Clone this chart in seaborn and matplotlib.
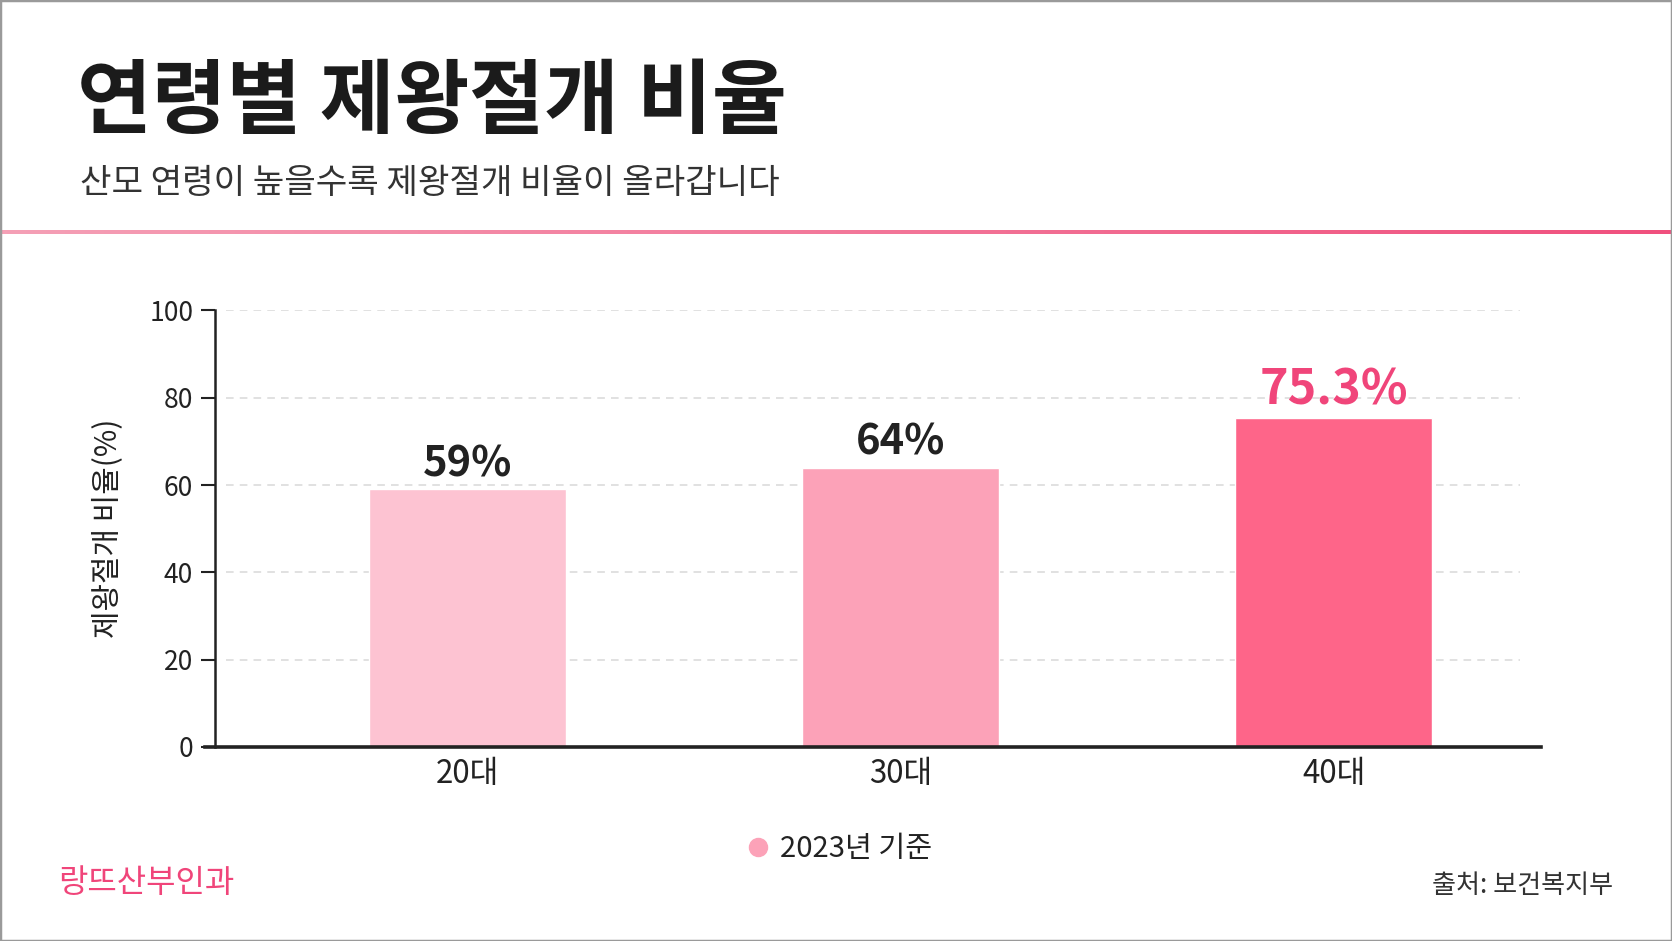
import numpy as np
import pandas as pd
import matplotlib
matplotlib.use('Agg')
import matplotlib.pyplot as plt
from matplotlib.colors import LinearSegmentedColormap
from matplotlib.lines import Line2D
from matplotlib.patches import Rectangle
import seaborn as sns

# chart data
age_groups = ['20대', '30대', '40대']
csection_rates = [59, 64, 75.3]
rate_labels = ['59%', '64%', '75.3%']
bar_colors = ['#fdc3d2', '#fca2b8', '#fe6589']
y_ticks = [0, 20, 40, 60, 80, 100]

title = '연령별 제왕절개 비율'
subtitle = '산모 연령이 높을수록 제왕절개 비율이 올라갑니다'
y_label = '제왕절개 비율(%)'
legend_label = '2023년 기준'
brand = '랑뜨산부인과'
source = '출처: 보건복지부'

sns.set_theme(style='white')
plt.rcParams['font.family'] = ['Noto Sans CJK KR', 'DejaVu Sans']

df = pd.DataFrame({'age': age_groups, 'rate': csection_rates})

W, H = 1568, 882  # layout measured on this grid
fig = plt.figure(figsize=(16.72, 9.41), dpi=100)
fig.patch.set_facecolor('white')

# header
fig.text(72 / W, 1 - 97 / H, title, fontsize=58.5, fontweight='black',
         color='#1b1b1b', va='center', ha='left')
fig.text(75 / W, 1 - 172 / H, subtitle, fontsize=24.7,
         color='#333333', va='center', ha='left')

# gradient divider line
line_ax = fig.add_axes([0, 1 - 219 / H, 1, 3 / H])
grad = np.linspace(0, 1, 256).reshape(1, -1)
cmap = LinearSegmentedColormap.from_list('pinkline', ['#f5a0b6', '#f0507e'])
line_ax.imshow(grad, aspect='auto', cmap=cmap)
line_ax.set_axis_off()

# main chart
ax = fig.add_axes([202 / W, 1 - 700 / H, (1445 - 202) / W, (700 - 291) / H])
sns.barplot(data=df, x='age', y='rate', hue='age', palette=bar_colors,
            width=0.455, legend=False, ax=ax, saturation=1, zorder=3)

ax.set_ylim(0, 100)
ax.set_xlim(-0.581, 2.478)
ax.set_yticks(y_ticks)
ax.set_ylabel(y_label, fontsize=21.5, color='#222222', labelpad=18)
ax.set_xlabel('')
ax.tick_params(axis='y', labelsize=19, colors='#222222', length=10, width=1.5,
               direction='out', left=True, pad=6)
ax.tick_params(axis='x', labelsize=22.5, colors='#222222', length=0, pad=8)

# dashed guide lines, stopping a bit short of the axis end
for yv in y_ticks[1:]:
    ax.axhline(yv, xmin=0.008, xmax=(1425 - 202) / (1445 - 202),
               linestyle=(0, (5, 4)), color='#d9d9d9', linewidth=1.1, zorder=1)
ax.grid(False)
for side in ['top', 'right']:
    ax.spines[side].set_visible(False)
ax.spines['left'].set_color('#222222')
ax.spines['left'].set_linewidth(1.8)
ax.spines['bottom'].set_color('#222222')
ax.spines['bottom'].set_linewidth(2.6)
ax.spines['bottom'].set_bounds(-0.605, 2.478)
ax.spines['bottom'].set_zorder(4)

# value labels on the bars
for i, (patch, text) in enumerate(zip(ax.patches, rate_labels)):
    last = i == len(rate_labels) - 1
    ax.annotate(text, (patch.get_x() + patch.get_width() / 2, patch.get_height()),
                xytext=(0, 3), textcoords='offset points', ha='center', va='bottom',
                fontsize=35 if last else 30, fontweight='bold',
                color='#f0457a' if last else '#222222')

# legend
handle = Line2D([], [], marker='o', linestyle='', markersize=13,
                markerfacecolor='#fca2b8', markeredgecolor='#fca2b8')
fig.legend([handle], [legend_label], loc='center', bbox_to_anchor=(786 / W, 1 - 796 / H),
           frameon=False, fontsize=21, handletextpad=0.25, handlelength=1.0,
           labelcolor='#222222')

# footer
fig.text(55 / W, 1 - 828 / H, brand, fontsize=23, color='#f0457a',
         va='center', ha='left')
fig.text(1513 / W, 1 - 830 / H, source, fontsize=18.8, color='#333333',
         va='center', ha='right')

# outer border
fig.patches.append(Rectangle((0, 0), 1, 1, transform=fig.transFigure, fill=False,
                             edgecolor='#9a9a9a', linewidth=2.5))

fig.savefig('out.png', dpi=100, facecolor='white')
